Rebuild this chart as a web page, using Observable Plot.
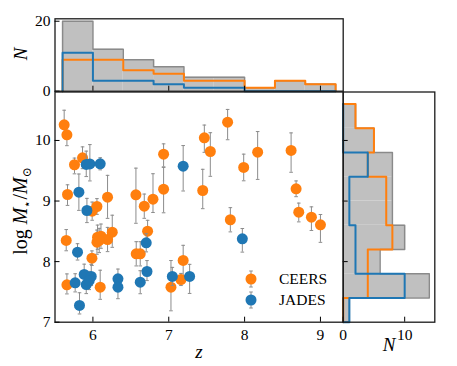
<!DOCTYPE html>
<html><head><meta charset="utf-8">
<script src="https://cdn.jsdelivr.net/npm/d3@7"></script>
<script src="https://cdn.jsdelivr.net/npm/@observablehq/plot@0.6"></script>
<style>
body{margin:0;background:#fff}
#chart{position:relative;width:457px;height:366px;font-family:"Liberation Serif",serif}
#chart svg{position:absolute;left:0;top:0;overflow:visible}
</style></head><body><div id="chart"></div>
<script>
// ---- data ----
const ceersZ  = [5.621,5.657,5.863,5.757,5.665,6.053,6.193,6.567,6.677,6.792,6.932,6.932,5.990,5.648,6.061,6.106,6.053,6.193,6.255,5.987,6.571,6.624,6.721,7.190,7.161,7.029,6.096,5.657,7.776,7.469,7.548,8.172,8.613,7.988,7.448,8.679,8.714,8.881,7.812,9.000,6.083];
const ceersM  = [10.259,10.094,9.714,9.599,9.108,8.910,9.064,9.103,8.915,9.031,9.196,9.774,8.833,8.349,8.403,8.420,8.321,8.365,8.486,8.057,8.129,8.129,8.502,8.019,7.705,7.578,7.578,7.617,10.302,10.044,9.818,9.807,9.835,9.554,9.174,9.202,8.816,8.734,8.691,8.608,8.349];
const ceersLo = [0.20,0.18,0.18,0.15,0.18,0.13,0.35,0.47,0.20,0.22,0.39,0.21,0.15,0.17,0.20,0.20,0.20,0.20,0.25,0.12,0.20,0.20,0.18,0.25,0.10,0.39,0.20,0.15,0.29,0.24,0.41,0.45,0.36,0.22,0.30,0.13,0.16,0.22,0.20,0.29,0.20];
const ceersHi = [0.24,0.20,0.18,0.11,0.16,0.13,0.36,0.44,0.20,0.42,0.36,0.17,0.15,0.18,0.20,0.20,0.20,0.20,0.28,0.12,0.20,0.20,0.18,0.25,0.10,0.44,0.28,0.18,0.21,0.21,0.31,0.34,0.29,0.22,0.35,0.13,0.15,0.17,0.20,0.17,0.20];

const jadesZ  = [5.912,5.960,6.096,5.815,5.921,7.190,5.797,6.703,6.713,6.624,7.047,7.275,6.330,6.330,5.885,5.978,5.912,5.766,5.823,7.970,5.951];
const jadesM  = [9.604,9.612,9.615,9.146,8.844,9.576,8.156,8.311,7.837,7.660,7.755,7.755,7.717,7.578,7.788,7.755,7.622,7.650,7.276,8.377,7.688];
const jadesLo = [0.20,0.28,0.10,0.30,0.20,0.41,0.13,0.15,0.15,0.19,0.15,0.28,0.10,0.19,0.15,0.15,0.15,0.15,0.14,0.22,0.15];
const jadesHi = [0.22,0.32,0.10,0.30,0.20,0.34,0.14,0.15,0.18,0.19,0.15,0.20,0.16,0.10,0.17,0.20,0.15,0.15,0.21,0.17,0.15];

const zBinEdges = [5.6,6.0,6.4,6.8,7.2,7.6,8.0,8.4,8.8,9.2];
const mBinEdges = [7.0,7.4,7.8,8.2,8.6,9.0,9.4,9.8,10.2,10.6];
const zTicks = [6,7,8,9];
const mTicks = [7,8,9,10];
const mTicksRight = [8,9,10];
const nTicksTop = [0,20];
const nTicksRight = [0,10];
const seriesNames = ["CEERS","JADES"];
const seriesColors = ["#ff7f0e","#1f77b4"];

// ---- derived tables ----
const ceers = ceersZ.map((z,i)=>({z, m:ceersM[i], lo:ceersLo[i], hi:ceersHi[i]}));
const jades = jadesZ.map((z,i)=>({z, m:jadesM[i], lo:jadesLo[i], hi:jadesHi[i]}));
function counts(values, edges){
  return edges.slice(0,-1).map((e,i)=>values.filter(v=> v>=e && (i===edges.length-2 ? v<=edges[i+1] : v<edges[i+1])).length);
}
function corners(edges, c){
  const p=[{e:edges[0],n:0}];
  c.forEach((n,i)=>{p.push({e:edges[i],n}); p.push({e:edges[i+1],n});});
  p.push({e:edges[edges.length-1],n:0});
  return p;
}
function binsTable(edges,c){ return c.map((n,i)=>({e1:edges[i],e2:edges[i+1],n})); }
const allZ = ceersZ.concat(jadesZ), allM = ceersM.concat(jadesM);
const zAll = counts(allZ,zBinEdges), zC = counts(ceersZ,zBinEdges), zJ = counts(jadesZ,zBinEdges);
const mAll = counts(allM,mBinEdges), mC = counts(ceersM,mBinEdges), mJ = counts(jadesM,mBinEdges);

const W=457,H=366;
const FONT='"Liberation Serif", "DejaVu Serif", serif';
const baseStyle={fontFamily:FONT,fontSize:"15px",background:"transparent",color:"black",overflow:"visible"};
const capSymbol={draw(ctx,size){const w=Math.sqrt(size/Math.PI);ctx.moveTo(-w,0);ctx.lineTo(w,0);}};
const errGrey="#8c8c8c", histFill="#c0c0c0", histEdge="#8a8a8a", frameCol="#1a1a1a";
const intFmt = d => String(d);
const axText = {fontFamily:FONT, fontSize:15.5, tickFormat:intFmt, label:null};

function errMarks(data,color){
  return [
    Plot.ruleX(data,{x:"z",y1:d=>d.m-d.lo,y2:d=>d.m+d.hi,stroke:errGrey,strokeWidth:1}),
    Plot.dot(data,{x:"z",y:d=>d.m-d.lo,symbol:capSymbol,r:1.8,stroke:errGrey,fill:"none",strokeWidth:1}),
    Plot.dot(data,{x:"z",y:d=>d.m+d.hi,symbol:capSymbol,r:1.8,stroke:errGrey,fill:"none",strokeWidth:1}),
    Plot.dot(data,{x:"z",y:"m",r:5.5,fill:color})
  ];
}

const mainPlot = Plot.plot({
  width:W,height:H,style:baseStyle,
  marginLeft:54.5,marginRight:114.3,marginTop:91.5,marginBottom:44.3,
  x:{domain:[5.5,9.3]},
  y:{domain:[7,10.8]},
  marks:[
    ...errMarks(ceers,seriesColors[0]),
    ...errMarks(jades,seriesColors[1]),
    Plot.frame({stroke:frameCol,strokeWidth:1.3}),
    Plot.axisX({...axText,ticks:zTicks,tickSize:-5,tickPadding:12}),
    Plot.axisY({...axText,ticks:mTicks,tickSize:-5,tickPadding:9.5})
  ]
});

const topPlot = Plot.plot({
  width:W,height:H,style:baseStyle,
  marginLeft:54.5,marginRight:114.3,marginTop:18.3,marginBottom:275.3,
  x:{domain:[5.5,9.3]},
  y:{domain:[0,20.7]},
  marks:[
    Plot.rectY(binsTable(zBinEdges,zAll),{x1:"e1",x2:"e2",y:"n",fill:histFill}),
    Plot.line(corners(zBinEdges,zAll),{x:"e",y:"n",stroke:histEdge,strokeWidth:1.5}),
    Plot.line(corners(zBinEdges,zC),{x:"e",y:"n",stroke:seriesColors[0],strokeWidth:2}),
    Plot.line(corners(zBinEdges,zJ),{x:"e",y:"n",stroke:seriesColors[1],strokeWidth:2}),
    Plot.frame({stroke:frameCol,strokeWidth:1.3}),
    Plot.axisX({ticks:zTicks,tickSize:-5,tickFormat:()=>"",label:null}),
    Plot.axisY({...axText,ticks:nTicksTop,tickSize:-5,tickPadding:9.5})
  ]
});

const rightPlot = Plot.plot({
  width:W,height:H,style:baseStyle,
  marginLeft:342.7,marginRight:22.7,marginTop:91.5,marginBottom:44.3,
  x:{domain:[0,14.9]},
  y:{domain:[7,10.8]},
  marks:[
    Plot.rectX(binsTable(mBinEdges,mAll),{y1:"e1",y2:"e2",x:"n",fill:histFill}),
    Plot.line(corners(mBinEdges,mAll),{y:"e",x:"n",stroke:histEdge,strokeWidth:1.5}),
    Plot.line(corners(mBinEdges,mC),{y:"e",x:"n",stroke:seriesColors[0],strokeWidth:2}),
    Plot.line(corners(mBinEdges,mJ),{y:"e",x:"n",stroke:seriesColors[1],strokeWidth:2}),
    Plot.frame({stroke:frameCol,strokeWidth:1.3}),
    Plot.axisX({...axText,ticks:nTicksRight,tickSize:-5,tickPadding:12}),
    Plot.axisY({ticks:mTicksRight,tickSize:-5,tickFormat:()=>"",label:null})
  ]
});

const chart=document.getElementById("chart");
chart.append(topPlot,rightPlot,mainPlot);

// ---- labels and legend overlay ----
const ov=d3.select(chart).append("svg").attr("width",W).attr("height",H)
  .style("font-family",FONT);
const yl=ov.append("text").attr("transform","translate(27,211) rotate(-90)")
  .attr("text-anchor","middle").attr("font-size",20).attr("fill","black");
yl.append("tspan").text("log ");
yl.append("tspan").attr("font-style","italic").text("M");
yl.append("tspan").attr("font-size",12).attr("dy",4).text("⋆");
yl.append("tspan").attr("dy",-4).text("/");
yl.append("tspan").attr("font-style","italic").text("M");
yl.append("tspan").attr("font-size",12).attr("dy",4).text("⊙");
ov.append("text").attr("transform","translate(27,54) rotate(-90)").attr("text-anchor","middle")
  .attr("font-size",19).attr("font-style","italic").text("N");
ov.append("text").attr("x",199).attr("y",358).attr("text-anchor","middle")
  .attr("font-size",19).attr("font-style","italic").text("z");
ov.append("text").attr("x",389).attr("y",351).attr("text-anchor","middle")
  .attr("font-size",19).attr("font-style","italic").text("N");
seriesNames.forEach((name,i)=>{
  const cy=279+i*21, cx=251;
  const g=ov.append("g");
  g.append("line").attr("x1",cx).attr("x2",cx).attr("y1",cy-8).attr("y2",cy+8).attr("stroke",errGrey);
  g.append("line").attr("x1",cx-1.8).attr("x2",cx+1.8).attr("y1",cy-8).attr("y2",cy-8).attr("stroke",errGrey);
  g.append("line").attr("x1",cx-1.8).attr("x2",cx+1.8).attr("y1",cy+8).attr("y2",cy+8).attr("stroke",errGrey);
  g.append("circle").attr("cx",cx).attr("cy",cy).attr("r",5.5).attr("fill",seriesColors[i]);
  g.append("text").attr("x",279).attr("y",cy).attr("dy","0.35em").attr("font-size",15.5).text(name);
});
</script></body></html>
